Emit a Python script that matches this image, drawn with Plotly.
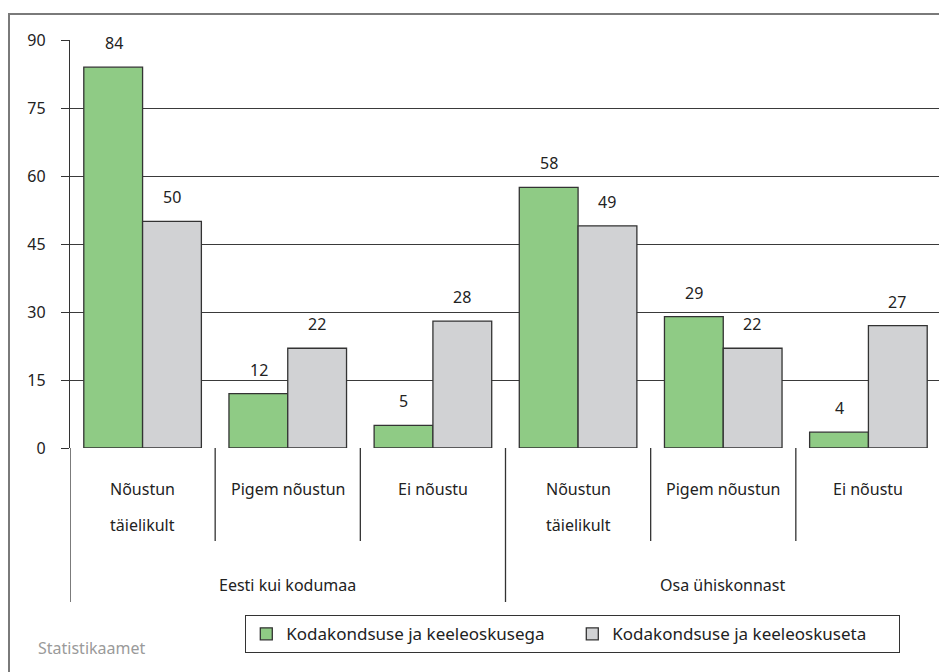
import plotly.graph_objects as go

groups = ["Eesti kui kodumaa", "Osa ühiskonnast"]
answers = ["Nõustun<br>täielikult", "Pigem nõustun", "Ei nõustu"]
series_names = ["Kodakondsuse ja keeleoskusega", "Kodakondsuse ja keeleoskuseta"]
with_values = [84, 12, 5, 57.5, 29, 3.5]
without_values = [50, 22, 28, 49, 22, 27]
with_labels = ["84", "12", "5", "58", "29", "4"]
without_labels = ["50", "22", "28", "49", "22", "27"]
y_ticks = [0, 15, 30, 45, 60, 75, 90]

OFF = 8  # page body margin
W, H = 947 - OFF, 672 - OFF
ML, MR, MT = 70 - OFF, 947 - 941, 40 - OFF
MB = H - (448 - OFF)
PW, PH = W - ML - MR, H - MT - MB


def px_x(px):
    return (px - OFF - ML) / PW


def px_y(py):
    return (H - MB - (py - OFF)) / PH


keys = [f"{g}|{a}" for g in groups for a in answers]

FONT = "Noto Sans"
TXT = "#222222"
GREEN = "#8fcb85"
GREY = "#d1d2d4"
EDGE = "#333333"

fig = go.Figure()
fig.add_trace(go.Bar(x=keys, y=with_values, name=series_names[0],
                     marker=dict(color=GREEN, line=dict(color=EDGE, width=1.3))))
fig.add_trace(go.Bar(x=keys, y=without_values, name=series_names[1],
                     marker=dict(color=GREY, line=dict(color=EDGE, width=1.3))))

annotations = []
for i, k in enumerate(keys):
    annotations.append(dict(x=i - 0.2, y=with_values[i], xref="x", yref="y",
                            text=with_labels[i], showarrow=False, yshift=24,
                            font=dict(size=16, color=TXT, family=FONT)))
    annotations.append(dict(x=i + 0.2, y=without_values[i], xref="x", yref="y",
                            text=without_labels[i], showarrow=False, yshift=24,
                            font=dict(size=16, color=TXT, family=FONT)))

for i, k in enumerate(keys):
    lines = answers[i % len(answers)].split("<br>")
    for j, line in enumerate(lines):
        annotations.append(dict(x=i, y=px_y(489 + 36 * j), xref="x", yref="paper",
                                text=line, showarrow=False, yanchor="middle",
                                font=dict(size=16, color=TXT, family=FONT)))
for gi, g in enumerate(groups):
    annotations.append(dict(x=gi * 3 + 1, y=px_y(585), xref="x", yref="paper",
                            text=g, showarrow=False, yanchor="middle",
                            font=dict(size=16, color=TXT, family=FONT)))

annotations.append(dict(x=px_x(36), y=px_y(648), xref="paper", yref="paper",
                        text="Statistikaamet", showarrow=False, xanchor="left",
                        yanchor="middle", font=dict(size=16, color="#9a9a9a", family=FONT)))

shapes = []
shapes.append(dict(type="rect", xref="paper", yref="paper",
                   x0=px_x(9), x1=px_x(960), y0=px_y(14), y1=px_y(720),
                   line=dict(color="#7a7a7a", width=2), layer="below"))
n = len(keys)
for i in range(n - 1):
    b = i + 0.5
    if (i + 1) % len(answers) == 0:
        continue
    shapes.append(dict(type="line", xref="x", yref="paper", x0=b, x1=b,
                       y0=0, y1=px_y(541), line=dict(color=EDGE, width=1.3)))
for b in [-0.5, 2.5, n - 0.5]:
    shapes.append(dict(type="line", xref="x", yref="paper", x0=b, x1=b,
                       y0=1 if b == n - 0.5 else 0, y1=px_y(602),
                       line=dict(color=EDGE, width=1.3)))

fig.update_layout(
    width=W, height=H,
    margin=dict(l=ML, r=MR, t=MT, b=MB),
    paper_bgcolor="white", plot_bgcolor="white",
    barmode="group", bargap=0.19, bargroupgap=0,
    font=dict(family=FONT, color=TXT, size=14),
    xaxis=dict(type="category", range=[-0.5, n - 0.5], showticklabels=False,
               showgrid=False, ticks="", showline=False, zeroline=False),
    yaxis=dict(range=[0, 90], tickvals=y_ticks, showgrid=True, gridcolor="#3a3a3a",
               gridwidth=1.3, zeroline=False, showline=True, linecolor=EDGE, linewidth=1.3,
               ticks="outside", ticklen=8, tickcolor=EDGE, tickwidth=1.3,
               ticklabelstandoff=12, tickfont=dict(size=16, color=TXT, family=FONT)),
    showlegend=True,
    legend=dict(orientation="h", x=px_x(245), xanchor="left", y=px_y(615), yanchor="top",
                bordercolor="#333333", borderwidth=1.3, bgcolor="white",
                font=dict(size=17, color=TXT, family=FONT), entrywidth=281,
                traceorder="normal", itemclick=False),
    annotations=annotations,
    shapes=shapes,
)

fig.write_html("out.html")
